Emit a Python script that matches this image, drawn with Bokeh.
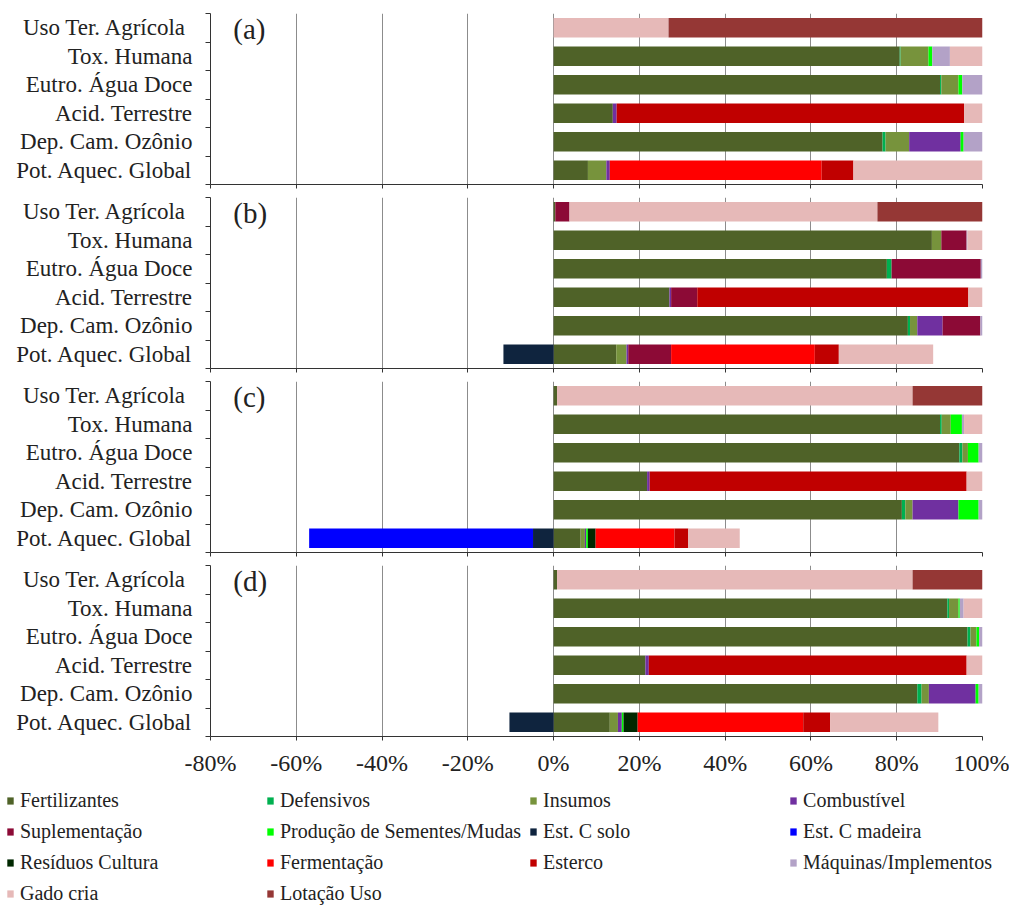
from bokeh.plotting import figure
from bokeh.layouts import column
from bokeh.models import ColumnDataSource, FixedTicker, Legend, LegendItem, Label, Range1d
from bokeh.embed import file_html
from bokeh.resources import INLINE

# ---------------- data ----------------
# categories listed bottom -> top
categories = ["Pot. Aquec. Global", "Dep. Cam. Ozônio", "Acid. Terrestre",
              "Eutro. Água Doce", "Tox. Humana", "Uso  Ter. Agrícola"]

series = ["Fertilizantes", "Defensivos", "Insumos", "Combustível",
          "Suplementação", "Produção de Sementes/Mudas", "Est. C solo", "Est. C madeira",
          "Resíduos Cultura", "Fermentação", "Esterco", "Máquinas/Implementos",
          "Gado cria", "Lotação Uso"]

colors = ["#4F6228", "#00B050", "#77933C", "#7030A0",
          "#8C0A36", "#00FF00", "#0F243E", "#0000FF",
          "#002800", "#FF0000", "#C00000", "#B3A2C7",
          "#E6B9B8", "#953735"]

x_ticks = [-80, -60, -40, -20, 0, 20, 40, 60, 80, 100]
x_tick_labels = ["-80%", "-60%", "-40%", "-20%", "0%", "20%", "40%", "60%", "80%", "100%"]

panel_letters = ["(a)", "(b)", "(c)", "(d)"]

panel_a = {
    "Fertilizantes":              [8.0, 76.7, 13.8, 90.1, 80.7, 0.0],
    "Defensivos":                 [0.0, 0.7, 0.0, 0.3, 0.2, 0.0],
    "Insumos":                    [4.3, 5.5, 0.0, 4.0, 6.5, 0.0],
    "Combustível":                [0.8, 12.0, 0.9, 0.0, 0.0, 0.0],
    "Suplementação":              [0.0, 0.0, 0.0, 0.0, 0.0, 0.0],
    "Produção de Sementes/Mudas": [0.0, 0.7, 0.0, 0.9, 0.9, 0.0],
    "Est. C solo":                [0.0, 0.0, 0.0, 0.0, 0.0, 0.0],
    "Est. C madeira":             [0.0, 0.0, 0.0, 0.0, 0.0, 0.0],
    "Resíduos Cultura":           [0.0, 0.0, 0.0, 0.0, 0.0, 0.0],
    "Fermentação":                [49.4, 0.0, 0.0, 0.0, 0.0, 0.0],
    "Esterco":                    [7.4, 0.0, 81.0, 0.0, 0.0, 0.0],
    "Máquinas/Implementos":       [0.0, 4.4, 0.0, 4.7, 4.1, 0.0],
    "Gado cria":                  [30.1, 0.0, 4.3, 0.0, 7.6, 26.8],
    "Lotação Uso":                [0.0, 0.0, 0.0, 0.0, 0.0, 73.2],
}

panel_b = {
    "Fertilizantes":              [14.6, 82.6, 27.0, 77.7, 88.2, 0.4],
    "Defensivos":                 [0.0, 0.5, 0.0, 1.1, 0.0, 0.0],
    "Insumos":                    [2.4, 1.7, 0.0, 0.0, 2.2, 0.0],
    "Combustível":                [0.4, 5.9, 0.4, 0.0, 0.0, 0.0],
    "Suplementação":              [10.0, 8.8, 6.1, 20.8, 5.9, 3.3],
    "Produção de Sementes/Mudas": [0.0, 0.0, 0.0, 0.0, 0.0, 0.0],
    "Est. C solo":                [-11.7, 0.0, 0.0, 0.0, 0.0, 0.0],
    "Est. C madeira":             [0.0, 0.0, 0.0, 0.0, 0.0, 0.0],
    "Resíduos Cultura":           [0.0, 0.0, 0.0, 0.0, 0.0, 0.0],
    "Fermentação":                [33.5, 0.0, 0.0, 0.0, 0.0, 0.0],
    "Esterco":                    [5.6, 0.0, 63.2, 0.0, 0.0, 0.0],
    "Máquinas/Implementos":       [0.0, 0.5, 0.0, 0.4, 0.2, 0.0],
    "Gado cria":                  [22.0, 0.0, 3.3, 0.0, 3.5, 71.8],
    "Lotação Uso":                [0.0, 0.0, 0.0, 0.0, 0.0, 24.5],
}

panel_c = {
    "Fertilizantes":              [6.3, 81.2, 21.8, 94.6, 90.1, 0.8],
    "Defensivos":                 [0.0, 0.8, 0.0, 0.7, 0.4, 0.0],
    "Insumos":                    [1.0, 1.7, 0.0, 1.3, 2.1, 0.0],
    "Combustível":                [0.3, 10.7, 0.6, 0.0, 0.0, 0.0],
    "Suplementação":              [0.0, 0.0, 0.0, 0.0, 0.0, 0.0],
    "Produção de Sementes/Mudas": [0.4, 4.7, 0.0, 2.5, 2.6, 0.0],
    "Est. C solo":                [-4.8, 0.0, 0.0, 0.0, 0.0, 0.0],
    "Est. C madeira":             [-52.2, 0.0, 0.0, 0.0, 0.0, 0.0],
    "Resíduos Cultura":           [1.8, 0.0, 0.0, 0.0, 0.0, 0.0],
    "Fermentação":                [18.4, 0.0, 0.0, 0.0, 0.0, 0.0],
    "Esterco":                    [3.2, 0.0, 73.9, 0.0, 0.0, 0.0],
    "Máquinas/Implementos":       [0.0, 0.9, 0.0, 0.9, 0.5, 0.0],
    "Gado cria":                  [12.0, 0.0, 3.7, 0.0, 4.3, 82.9],
    "Lotação Uso":                [0.0, 0.0, 0.0, 0.0, 0.0, 16.3],
}

panel_d = {
    "Fertilizantes":              [13.1, 84.8, 21.4, 96.5, 91.8, 0.8],
    "Defensivos":                 [0.0, 1.0, 0.0, 0.7, 0.4, 0.0],
    "Insumos":                    [1.9, 1.7, 0.0, 1.4, 2.2, 0.0],
    "Combustível":                [0.9, 10.9, 0.8, 0.0, 0.0, 0.0],
    "Suplementação":              [0.0, 0.0, 0.0, 0.0, 0.0, 0.0],
    "Produção de Sementes/Mudas": [0.4, 0.7, 0.0, 0.6, 0.3, 0.0],
    "Est. C solo":                [-10.3, 0.0, 0.0, 0.0, 0.0, 0.0],
    "Est. C madeira":             [0.0, 0.0, 0.0, 0.0, 0.0, 0.0],
    "Resíduos Cultura":           [3.3, 0.0, 0.0, 0.0, 0.0, 0.0],
    "Fermentação":                [38.6, 0.0, 0.0, 0.0, 0.0, 0.0],
    "Esterco":                    [6.3, 0.0, 74.1, 0.0, 0.0, 0.0],
    "Máquinas/Implementos":       [0.0, 0.9, 0.0, 0.8, 0.9, 0.0],
    "Gado cria":                  [25.2, 0.0, 3.7, 0.0, 4.4, 82.9],
    "Lotação Uso":                [0.0, 0.0, 0.0, 0.0, 0.0, 16.3],
}

panels = [panel_a, panel_b, panel_c, panel_d]

# ---------------- styling ----------------
FONT = "Liberation Serif"
X_START, X_END = -80, 100
FRAME_W, FRAME_H = 772, 171
BAR_H = 0.68

y_centers = [i + 0.5 for i in range(len(categories))]
y_bounds = [i for i in range(len(categories) + 1)]

figs = []
x_range = Range1d(X_START, X_END)
for k, data in enumerate(panels):
    first = (k == 0)
    last = (k == len(panels) - 1)
    p = figure(frame_width=FRAME_W, frame_height=FRAME_H,
               x_range=x_range, y_range=Range1d(0, len(categories)),
               output_backend="svg", toolbar_location=None,
               min_border_left=210, min_border_right=27,
               min_border_top=13 if first else 5,
               min_border_bottom=40 if last else 8)
    p.outline_line_color = None
    p.background_fill_color = "white"
    p.border_fill_color = "white"

    src = {"y": y_centers}
    pos_keys, neg_keys, pos_cols, neg_cols = [], [], [], []
    for i, name in enumerate(series):
        vals = data[name]
        src["p%d" % i] = [v if v > 0 else 0.0 for v in vals]
        pos_keys.append("p%d" % i)
        pos_cols.append(colors[i])
        if any(v < 0 for v in vals):
            src["n%d" % i] = [v if v < 0 else 0.0 for v in vals]
            neg_keys.append("n%d" % i)
            neg_cols.append(colors[i])
    source = ColumnDataSource(src)
    p.hbar_stack(pos_keys, y="y", height=BAR_H, color=pos_cols,
                 line_color=None, source=source)
    if neg_keys:
        p.hbar_stack(neg_keys, y="y", height=BAR_H, color=neg_cols,
                     line_color=None, source=source)

    # x axis
    xa = p.xaxis[0]
    xa.ticker = FixedTicker(ticks=x_ticks)
    xa.major_label_overrides = dict(zip(x_ticks, x_tick_labels))
    xa.axis_line_color = "#333333"
    xa.major_tick_line_color = "#333333"
    xa.major_tick_in = 0
    xa.major_tick_out = 4
    xa.minor_tick_line_color = None
    xa.major_label_text_font = FONT
    xa.major_label_text_color = "#222222"
    if last:
        xa.major_label_text_font_size = "24px"
        xa.major_label_standoff = 9
    else:
        xa.major_label_text_font_size = "0px"
        xa.major_label_standoff = 0

    # y axis
    ya = p.yaxis[0]
    ya.ticker = FixedTicker(ticks=y_centers, minor_ticks=y_bounds)
    ya.major_label_overrides = dict(zip(y_centers, categories))
    ya.axis_line_color = "#333333"
    ya.major_tick_line_color = None
    ya.major_tick_in = 0
    ya.major_tick_out = 0
    ya.minor_tick_line_color = "#333333"
    ya.minor_tick_in = 0
    ya.minor_tick_out = 5
    ya.major_label_text_font = FONT
    ya.major_label_text_font_size = "23px"
    ya.major_label_text_color = "#222222"
    ya.major_label_standoff = 13

    p.xgrid.ticker = FixedTicker(ticks=x_ticks)
    p.xgrid.grid_line_color = "#8c8c8c"
    p.xgrid.grid_line_width = 1
    p.ygrid.grid_line_color = None

    p.add_layout(Label(x=X_START + 5.3, y=len(categories) - 0.56, text=panel_letters[k],
                       text_font=FONT, text_font_size="29px",
                       text_baseline="middle", text_color="#222222"))
    figs.append(p)

# ---------------- legend ----------------
pl = figure(frame_width=991, frame_height=122, x_range=Range1d(0, 1), y_range=Range1d(0, 1),
            x_axis_type=None, y_axis_type=None, output_backend="svg",
            toolbar_location=None, min_border_left=18, min_border_right=0,
            min_border_top=11, min_border_bottom=0)
pl.outline_line_color = None
pl.xgrid.grid_line_color = None
pl.ygrid.grid_line_color = None
items = []
for name, c in zip(series, colors):
    # zero-area proxy glyph: only its legend swatch is visible
    r = pl.hbar(y=[0], left=[0], right=[0], height=0, fill_color=c, line_color=None)
    items.append(LegendItem(label=name, renderers=[r]))
leg = Legend(items=items, orientation="horizontal", ncols=4, location="top_left",
             margin=0, padding=2, spacing=8, glyph_width=8, glyph_height=9,
             label_standoff=6, label_width=238, label_height=20,
             label_text_font=FONT, label_text_font_size="20px",
             label_text_color="#222222",
             border_line_color=None, background_fill_alpha=0)
pl.add_layout(leg, "center")

layout = column(*figs, pl, spacing=0)
open("out.html", "w").write(file_html(layout, INLINE))
